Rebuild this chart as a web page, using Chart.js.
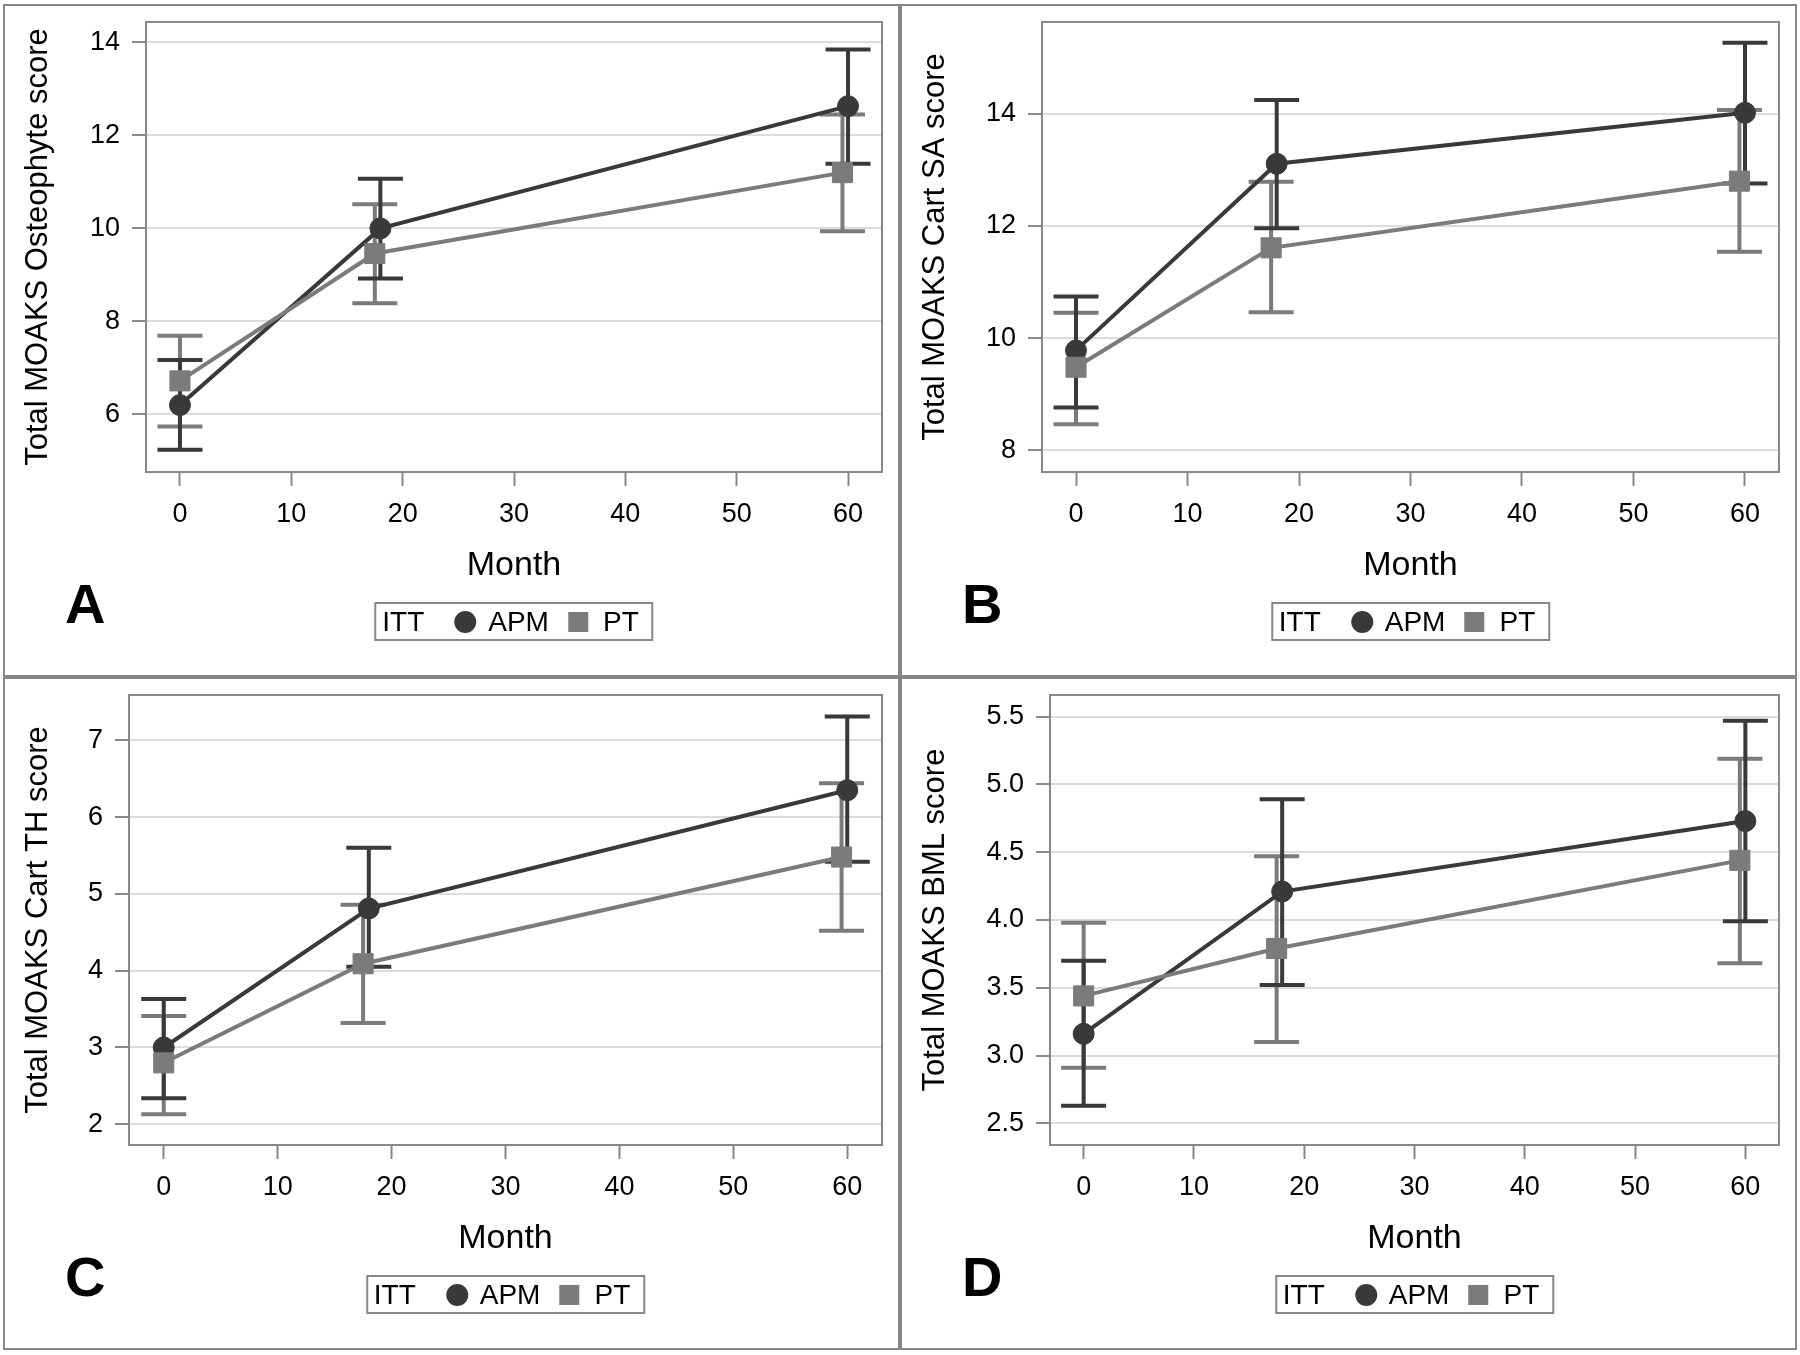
<!DOCTYPE html>
<html>
<head>
<meta charset="utf-8">
<script src="https://cdn.jsdelivr.net/npm/chart.js@4.4.1/dist/chart.umd.min.js"></script>
<style>
body{margin:0;background:#fff;width:1800px;height:1355px;position:relative;overflow:hidden;font-family:"Liberation Sans",Arial,sans-serif;}
.panel{position:absolute;box-sizing:border-box;width:897px;height:673px;border:2px solid #868686;}
.panel canvas{position:absolute;left:0;top:0;}
.letter{position:absolute;left:60px;top:570px;font-size:56px;font-weight:bold;line-height:56px;}
.legend{position:absolute;top:596px;height:39px;box-sizing:border-box;border:2px solid #888;display:flex;align-items:center;font-size:28px;padding:0 13px 0 6px;transform:translateX(-50%);white-space:nowrap;}
.dot{display:block;width:22px;height:22px;border-radius:50%;background:#393939;margin:0 12px 0 30px;}
.sq{display:block;width:20px;height:20px;background:#7b7b7b;margin:0 15px 0 19px;}
</style>
</head>
<body>
<div class="panel" style="left:3px;top:4px"><canvas id="cA" width="893" height="600"></canvas><div class="letter">A</div><div class="legend" id="lA"><span>ITT</span><i class="dot"></i><span>APM</span><i class="sq"></i><span>PT</span></div></div>
<div class="panel" style="left:900px;top:4px"><canvas id="cB" width="893" height="600"></canvas><div class="letter">B</div><div class="legend" id="lB"><span>ITT</span><i class="dot"></i><span>APM</span><i class="sq"></i><span>PT</span></div></div>
<div class="panel" style="left:3px;top:677px"><canvas id="cC" width="893" height="600"></canvas><div class="letter">C</div><div class="legend" id="lC"><span>ITT</span><i class="dot"></i><span>APM</span><i class="sq"></i><span>PT</span></div></div>
<div class="panel" style="left:900px;top:677px"><canvas id="cD" width="893" height="600"></canvas><div class="letter">D</div><div class="legend" id="lD"><span>ITT</span><i class="dot"></i><span>APM</span><i class="sq"></i><span>PT</span></div></div>

<script>
const el=id=>document.getElementById(id);

// DATA
const apmMonths=[0,18,60];
const ptMonths=[0,17.5,59.5];
const xTicks=[0,10,20,30,40,50,60];

// A - osteophyte
const oaApm=[6.20,10.00,12.63], oaApmLo=[5.24,8.92,11.39], oaApmHi=[7.17,11.07,13.85];
const oaPt=[6.72,9.46,11.20], oaPtLo=[5.74,8.39,9.94], oaPtHi=[7.69,10.52,12.45];
const oaTicks=[6,8,10,12,14];

// B - cart SA
const saApm=[9.78,13.11,14.02], saApmLo=[8.76,11.96,12.76], saApmHi=[10.74,14.25,15.27];
const saPt=[9.48,11.61,12.80], saPtLo=[8.46,10.46,11.54], saPtHi=[10.45,12.79,14.07];
const saTicks=[8,10,12,14];

// C - cart TH
const thApm=[3.00,4.81,6.35], thApmLo=[2.34,4.05,5.42], thApmHi=[3.63,5.60,7.31];
const thPt=[2.80,4.09,5.48], thPtLo=[2.13,3.32,4.52], thPtHi=[3.41,4.86,6.44];
const thTicks=[2,3,4,5,6,7];

// D - BML
const bmlApm=[3.16,4.21,4.73], bmlApmLo=[2.63,3.52,3.99], bmlApmHi=[3.70,4.89,5.47];
const bmlPt=[3.44,3.79,4.44], bmlPtLo=[2.91,3.10,3.68], bmlPtHi=[3.98,4.47,5.19];
const bmlTicks=[2.5,3.0,3.5,4.0,4.5,5.0,5.5];

const APM_COL="#393939", PT_COL="#7b7b7b";
Chart.defaults.font.family='"Liberation Sans", Arial, sans-serif';

// ERROR BARS + FRAME
const errBars={id:"errBars",beforeDatasetsDraw(chart){
const {ctx,chartArea:a,scales:{x,y}}=chart;
ctx.save();
ctx.strokeStyle="#888";ctx.lineWidth=2;
ctx.strokeRect(a.left,a.top,a.right-a.left,a.bottom-a.top);
[1,0].forEach(i=>{
let ds=chart.data.datasets[i];
ctx.strokeStyle=ds.borderColor;ctx.lineWidth=4;
ds.data.forEach((p,j)=>{
let px=x.getPixelForValue(p.x), lo=y.getPixelForValue(ds.lo[j]), hi=y.getPixelForValue(ds.hi[j]);
ctx.beginPath();
ctx.moveTo(px,lo);ctx.lineTo(px,hi);
ctx.moveTo(px-22.5,lo);ctx.lineTo(px+22.5,lo);
ctx.moveTo(px-22.5,hi);ctx.lineTo(px+22.5,hi);
ctx.stroke();
});
});
ctx.restore();
}};

function makeChart(id,leg,c){
let chart=new Chart(el(id),{
type:"line",
data:{datasets:[
{label:"APM",data:apmMonths.map((m,i)=>({x:m,y:c.apm[i]})),lo:c.apmLo,hi:c.apmHi,
borderColor:APM_COL,backgroundColor:APM_COL,borderWidth:4,pointStyle:"circle",pointRadius:10.5,pointBorderWidth:1,tension:0,order:2},
{label:"PT",data:ptMonths.map((m,i)=>({x:m,y:c.pt[i]})),lo:c.ptLo,hi:c.ptHi,
borderColor:PT_COL,backgroundColor:PT_COL,borderWidth:4,pointStyle:"rect",pointRadius:14.2,pointBorderWidth:1,tension:0,order:1}
]},
options:{
responsive:false,animation:false,
layout:{padding:{top:16,right:16,left:0,bottom:0}},
plugins:{legend:{display:false},tooltip:{enabled:false}},
scales:{
x:{type:"linear",min:-3.05,max:63.05,
afterBuildTicks:s=>{s.ticks=xTicks.map(v=>({value:v}));},
afterFit:s=>{s.height=600-466;s.paddingLeft=0;s.paddingRight=0;},
grid:{drawOnChartArea:false,tickLength:14,tickColor:"#888",tickWidth:2},
border:{display:false},
ticks:{font:{size:27},color:"#000",padding:12,maxRotation:0},
title:{display:true,text:"Month",font:{size:34},color:"#000",padding:{bottom:20}}},
y:{type:"linear",min:c.min,max:c.max,
afterBuildTicks:s=>{s.ticks=c.ticks.map(v=>({value:v}));},
afterFit:s=>{s.width=c.left;s.paddingTop=0;s.paddingBottom=0;},
grid:{color:"#dcdcdc",lineWidth:2,tickLength:14,tickColor:"#888",tickWidth:2},
border:{display:false},
ticks:{font:{size:27},color:"#000",padding:12,callback:v=>c.dec?v.toFixed(1):v},
title:{display:true,text:c.title,font:{size:31},color:"#000",padding:{top:15}}}
}
},
plugins:[errBars]
});
let a=chart.chartArea;
el(leg).style.left=((a.left+a.right)/2)+"px";
return chart;
}

makeChart("cA","lA",{apm:oaApm,apmLo:oaApmLo,apmHi:oaApmHi,pt:oaPt,ptLo:oaPtLo,ptHi:oaPtHi,
ticks:oaTicks,min:4.76,max:14.44,left:141,title:"Total MOAKS Osteophyte score"});
makeChart("cB","lB",{apm:saApm,apmLo:saApmLo,apmHi:saApmHi,pt:saPt,ptLo:saPtLo,ptHi:saPtHi,
ticks:saTicks,min:7.61,max:15.64,left:140,title:"Total MOAKS Cart SA score"});
makeChart("cC","lC",{apm:thApm,apmLo:thApmLo,apmHi:thApmHi,pt:thPt,ptLo:thPtLo,ptHi:thPtHi,
ticks:thTicks,min:1.73,max:7.59,left:124,title:"Total MOAKS Cart TH score"});
makeChart("cD","lD",{apm:bmlApm,apmLo:bmlApmLo,apmHi:bmlApmHi,pt:bmlPt,ptLo:bmlPtLo,ptHi:bmlPtHi,
ticks:bmlTicks,min:2.34,max:5.66,left:148,dec:true,title:"Total MOAKS BML score"});
</script>
</body>
</html>
